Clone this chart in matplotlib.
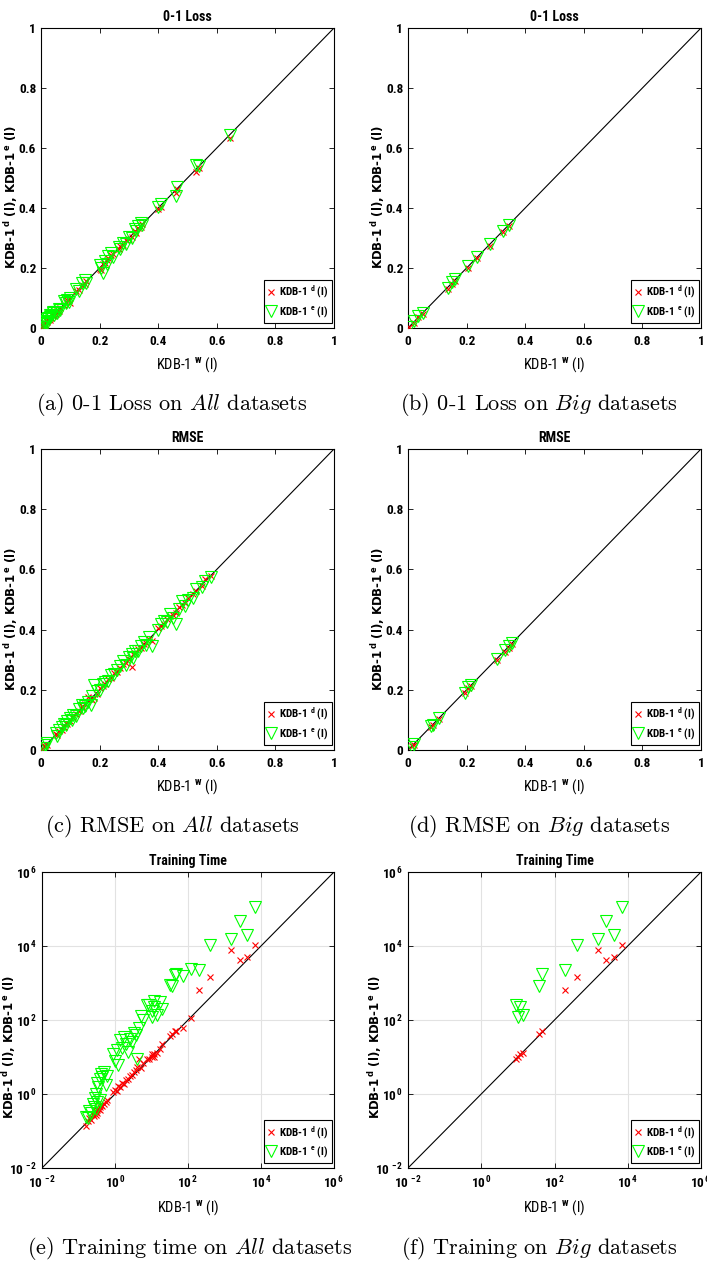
import matplotlib
matplotlib.use("Agg")
import matplotlib.pyplot as plt
import matplotlib.font_manager as fm
from matplotlib.lines import Line2D

# MATLAB-like narrow bold font: use a condensed family if one is installed
narrow = 'Liberation Sans'
narrow_stretch = 'normal'
names = {f.name for f in fm.fontManager.ttflist}
for cand in ['Liberation Sans Narrow', 'Roboto Condensed', 'Open Sans Condensed',
             'Noto Sans Condensed', 'Noto Sans SemiCondensed', 'DejaVu Sans Condensed']:
    if cand in names:
        narrow = cand
        break
else:
    for fam in ['Roboto', 'Noto Sans', 'Open Sans', 'DejaVu Sans']:
        if any(f.name == fam and f.stretch in ('condensed', 'semi-condensed', 75, 87)
               for f in fm.fontManager.ttflist):
            narrow, narrow_stretch = fam, 'condensed'
            break

plt.rcParams['font.family'] = [narrow, 'Liberation Sans']
plt.rcParams['font.stretch'] = narrow_stretch
plt.rcParams['font.weight'] = 'bold'
plt.rcParams['mathtext.fontset'] = 'custom'
plt.rcParams['mathtext.rm'] = narrow + ':bold'
plt.rcParams['mathtext.it'] = narrow + ':bold'
plt.rcParams['mathtext.bf'] = narrow + ':bold'
plt.rcParams['mathtext.default'] = 'rm'

# ---- (a) 0-1 loss, all datasets
a_w = [0.003, 0.006, 0.010, 0.012, 0.015, 0.020, 0.022, 0.025, 0.030, 0.032, 0.035, 0.040,
       0.042, 0.045, 0.050, 0.055, 0.060, 0.065, 0.080, 0.085, 0.090, 0.095, 0.100, 0.120,
       0.130, 0.140, 0.150, 0.155, 0.200, 0.205, 0.210, 0.220, 0.225, 0.230, 0.240, 0.245,
       0.265, 0.270, 0.280, 0.290, 0.300, 0.310, 0.320, 0.325, 0.330, 0.340, 0.345, 0.400,
       0.410, 0.460, 0.465, 0.530, 0.540, 0.645]
a_d = [0.002, 0.008, 0.012, 0.010, 0.018, 0.022, 0.020, 0.028, 0.028, 0.035, 0.033, 0.042,
       0.040, 0.048, 0.048, 0.058, 0.058, 0.068, 0.078, 0.088, 0.092, 0.093, 0.085, 0.125,
       0.128, 0.142, 0.148, 0.158, 0.198, 0.192, 0.212, 0.218, 0.228, 0.232, 0.242, 0.248,
       0.262, 0.272, 0.278, 0.292, 0.298, 0.305, 0.322, 0.318, 0.332, 0.338, 0.348, 0.398,
       0.405, 0.450, 0.462, 0.520, 0.535, 0.635]
a_e = [0.005, 0.012, 0.020, 0.015, 0.025, 0.030, 0.018, 0.035, 0.045, 0.038, 0.040, 0.050,
       0.055, 0.042, 0.055, 0.050, 0.062, 0.060, 0.090, 0.085, 0.095, 0.088, 0.100, 0.130,
       0.125, 0.150, 0.160, 0.150, 0.210, 0.200, 0.185, 0.225, 0.215, 0.240, 0.250, 0.238,
       0.270, 0.265, 0.285, 0.280, 0.305, 0.300, 0.330, 0.325, 0.340, 0.350, 0.345, 0.405,
       0.415, 0.440, 0.470, 0.545, 0.540, 0.645]

# ---- (b) 0-1 loss, big datasets
b_w = [0.005, 0.020, 0.035, 0.050, 0.135, 0.150, 0.160, 0.205, 0.235, 0.280, 0.325, 0.345]
b_d = [0.003, 0.018, 0.037, 0.048, 0.130, 0.148, 0.158, 0.200, 0.232, 0.275, 0.320, 0.340]
b_e = [0.004, 0.025, 0.040, 0.050, 0.135, 0.155, 0.162, 0.208, 0.238, 0.280, 0.325, 0.345]

# ---- (c) RMSE, all datasets
c_w = [0.005, 0.010, 0.015, 0.020, 0.050, 0.055, 0.060, 0.070, 0.080, 0.085, 0.090, 0.100,
       0.105, 0.110, 0.120, 0.130, 0.140, 0.145, 0.150, 0.160, 0.170, 0.175, 0.180, 0.190,
       0.200, 0.210, 0.220, 0.230, 0.240, 0.250, 0.260, 0.270, 0.280, 0.290, 0.300, 0.310,
       0.315, 0.320, 0.330, 0.340, 0.350, 0.360, 0.370, 0.380, 0.400, 0.410, 0.420, 0.430,
       0.440, 0.450, 0.460, 0.470, 0.480, 0.490, 0.500, 0.520, 0.530, 0.550, 0.560, 0.580]
c_d = [0.004, 0.012, 0.013, 0.018, 0.052, 0.050, 0.062, 0.068, 0.078, 0.090, 0.088, 0.098,
       0.110, 0.108, 0.118, 0.128, 0.145, 0.140, 0.152, 0.175, 0.168, 0.165, 0.172, 0.185,
       0.205, 0.212, 0.218, 0.235, 0.238, 0.255, 0.258, 0.272, 0.285, 0.288, 0.302, 0.275,
       0.318, 0.322, 0.335, 0.338, 0.352, 0.355, 0.368, 0.362, 0.405, 0.412, 0.418, 0.435,
       0.445, 0.448, 0.455, 0.475, 0.482, 0.488, 0.505, 0.518, 0.528, 0.545, 0.568, 0.578]
c_e = [0.008, 0.005, 0.018, 0.022, 0.058, 0.048, 0.066, 0.075, 0.088, 0.082, 0.095, 0.105,
       0.100, 0.115, 0.112, 0.135, 0.150, 0.138, 0.145, 0.158, 0.150, 0.180, 0.215, 0.195,
       0.198, 0.218, 0.225, 0.228, 0.248, 0.252, 0.265, 0.278, 0.295, 0.282, 0.310, 0.320,
       0.305, 0.330, 0.328, 0.345, 0.358, 0.348, 0.375, 0.345, 0.398, 0.420, 0.428, 0.425,
       0.452, 0.438, 0.420, 0.470, 0.495, 0.478, 0.498, 0.505, 0.535, 0.540, 0.560, 0.575]

# ---- (d) RMSE, big datasets
d_w = [0.015, 0.020, 0.078, 0.085, 0.105, 0.195, 0.205, 0.215, 0.305, 0.330, 0.345, 0.355]
d_d = [0.012, 0.018, 0.075, 0.082, 0.102, 0.190, 0.205, 0.212, 0.300, 0.325, 0.340, 0.352]
d_e = [0.010, 0.020, 0.080, 0.082, 0.105, 0.190, 0.208, 0.215, 0.302, 0.332, 0.345, 0.355]

# ---- (e) training time, all datasets
e_w = [0.16, 0.18, 0.20, 0.22, 0.25, 0.27, 0.28, 0.30, 0.30, 0.32, 0.33, 0.35, 0.38, 0.40,
       0.42, 0.45, 0.50, 0.55, 0.60, 0.90, 1.0, 1.1, 1.2, 1.4, 1.6, 1.8, 2.0, 2.3, 2.6, 3.0,
       3.3, 3.7, 4.1, 4.5, 5.0, 6.0, 7.5, 8.7, 10, 10.5, 11.7, 12, 14, 17, 19, 32, 37, 44,
       47, 75, 120, 195, 400, 1500, 2600, 4100, 6900]
e_d = [0.14, 0.19, 0.22, 0.20, 0.28, 0.25, 0.32, 0.27, 0.35, 0.30, 0.38, 0.40, 0.36, 0.45,
       0.50, 0.48, 0.55, 0.60, 0.70, 1.1, 1.3, 1.2, 1.6, 1.5, 2.0, 1.9, 2.4, 2.6, 3.0, 3.2,
       4.0, 4.5, 5.5, 9.0, 5.0, 7.0, 9.0, 9.0, 10, 12, 12, 10, 13, 16, 23, 38, 43, 50,
       50, 60, 110, 630, 1450, 7600, 4100, 5000, 10500]
e_e = [0.24, 0.22, 0.35, 0.30, 0.55, 0.45, 0.80, 0.40, 1.0, 0.60, 2.0, 1.5, 0.70, 2.5,
       3.5, 2.8, 4.0, 1.8, 3.0, 12, 8.0, 15, 6.0, 28, 18, 35, 22, 14, 30, 25,
       45, 40, 9.0, 60, 130, 100, 250, 250, 120, 180, 230, 330, 140, 300, 200, 870, 830, 1600,
       1700, 1500, 2400, 2200, 10500, 15000, 46000, 19500, 112000]

# ---- (f) training time, big datasets
f_w = [8.7, 10, 11.7, 14, 37, 47, 195, 400, 1500, 2600, 4100, 6900]
f_d = [9, 10, 12, 13, 43, 50, 630, 1450, 7600, 4100, 5000, 10500]
f_e = [250, 120, 230, 140, 830, 1700, 2200, 10500, 15000, 46000, 19500, 112000]

lin_ticks = [0, 0.2, 0.4, 0.6, 0.8, 1]
lin_labels = ['0', '0.2', '0.4', '0.6', '0.8', '1']
log_ticks = [1e-2, 1e0, 1e2, 1e4, 1e6]
log_labels = [r'10$^{\,-2}$', r'10$^{\,0}$', r'10$^{\,2}$', r'10$^{\,4}$', r'10$^{\,6}$']

W, H = 707, 1266
fig = plt.figure(figsize=(W / 100, H / 100), dpi=100)


def px_rect(l, t, r, b):
    return [l / W, 1 - b / H, (r - l) / W, (b - t) / H]


def panel(rect, title, w, d, e, log=False):
    ax = fig.add_axes(px_rect(*rect))
    if log:
        ax.set_xscale('log')
        ax.set_yscale('log')
        lo, hi = 1e-2, 1e6
        ax.grid(True, color='#e2e2e2', lw=0.8)
        ax.set_axisbelow(True)
    else:
        lo, hi = 0, 1
    ax.plot([lo, hi], [lo, hi], color='k', lw=0.8, zorder=3)
    ax.plot(w, d, ls='none', marker='x', ms=5, mew=0.8, color='#ff0000', zorder=4)
    ax.plot(w, e, ls='none', marker='v', ms=8, mew=0.8, mfc='none', mec='#00ff00', zorder=5)
    ax.set_xlim(lo, hi)
    ax.set_ylim(lo, hi)
    if log:
        ax.set_xticks(log_ticks, log_labels)
        ax.set_yticks(log_ticks, log_labels)
        ax.minorticks_off()
    else:
        ax.set_xticks(lin_ticks, lin_labels)
        ax.set_yticks(lin_ticks, lin_labels)
    ax.tick_params(direction='in', top=True, right=True, length=3.5, width=0.6,
                   labelsize=9.5, pad=5)
    ax.tick_params(axis='y', pad=3.5)
    for s in ax.spines.values():
        s.set_linewidth(0.8)
    ax.set_title(title, fontsize=10, fontweight='bold', pad=5)
    ax.set_xlabel(r'KDB-1 $^{w}$ (l)', fontsize=10.5, labelpad=5)
    ax.set_ylabel(r'KDB-1$^{\,\mathbf{d}}$ (l), KDB-1$^{\,\mathbf{e}}$ (l)', fontsize=8.5,
                  family='DejaVu Sans', fontweight='bold', stretch='normal',
                  math_fontfamily='dejavusans')
    ax.yaxis.label.set_va('center')
    if log:
        ax.yaxis.set_label_coords(-0.114, 0.41)
    else:
        ax.yaxis.set_label_coords(-0.103, 0.437)
    handles = [Line2D([], [], ls='none', marker='x', ms=5, mew=0.8, color='#ff0000'),
               Line2D([], [], ls='none', marker='v', ms=8, mew=0.8, mfc='none', mec='#00ff00')]
    leg = ax.legend(handles, [r'KDB-1 $^{d}$ (l)', r'KDB-1 $^{e}$ (l)'], loc='lower right',
                    bbox_to_anchor=(0.992, 0.016), borderaxespad=0, fancybox=False,
                    edgecolor='k', framealpha=1, handlelength=0.7, handletextpad=0.3,
                    borderpad=0.35, labelspacing=0.35, fontsize=8)
    leg.get_frame().set_linewidth(0.8)
    return ax


panel((41, 28, 334, 328), '0-1 Loss', a_w, a_d, a_e)
panel((408, 28, 701, 328), '0-1 Loss', b_w, b_d, b_e)
panel((41, 449, 334, 750), 'RMSE', c_w, c_d, c_e)
panel((408, 449, 701, 750), 'RMSE', d_w, d_d, d_e)
panel((42, 872, 334, 1168), 'Training Time', e_w, e_d, e_e, log=True)
panel((408, 872, 701, 1168), 'Training Time', f_w, f_d, f_e, log=True)

captions = [
    (172, 404, r'(a) 0-1 Loss on $\mathit{All}$ datasets'),
    (539, 404, r'(b) 0-1 Loss on $\mathit{Big}$ datasets'),
    (172, 827, r'(c) RMSE on $\mathit{All}$ datasets'),
    (539, 827, r'(d) RMSE on $\mathit{Big}$ datasets'),
    (190, 1248, r'(e) Training time on $\mathit{All}$ datasets'),
    (539, 1248, r'(f) Training on $\mathit{Big}$ datasets'),
]
for cx, cy, txt in captions:
    fig.text(cx / W, 1 - cy / H, txt, ha='center', va='center', fontsize=16,
             family='cmr10', math_fontfamily='cm', fontweight='normal', stretch='normal')

fig.savefig('out.png', dpi=100)
